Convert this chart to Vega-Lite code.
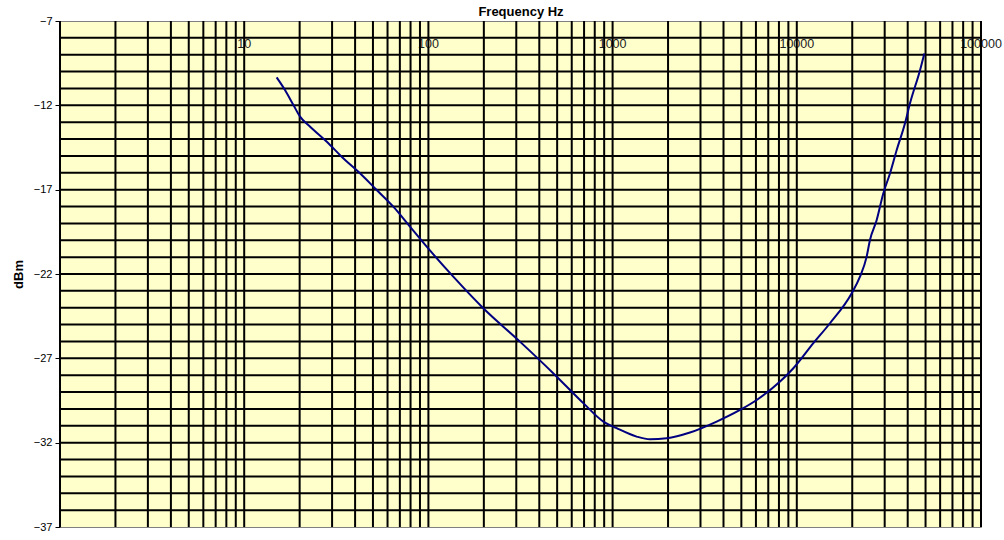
{
  "$schema": "https://vega.github.io/schema/vega-lite/v6.json",
  "width": 921,
  "height": 506,
  "autosize": {"type": "none"},
  "padding": {"left": 60, "top": 21, "right": 23, "bottom": 13},
  "background": "white",
  "config": {
    "font": "Liberation Sans",
    "view": {"fill": "#FFFFCC", "stroke": "#808080", "strokeWidth": 1}
  },
  "datasets": {
    "labels": [
      {"f": 10, "label": "10"},
      {"f": 100, "label": "100"},
      {"f": 1000, "label": "1000"},
      {"f": 10000, "label": "10000"},
      {"f": 100000, "label": "100000"}
    ],
    "xgrid": [
      {"f": 1}, {"f": 2}, {"f": 3}, {"f": 4}, {"f": 5}, {"f": 6}, {"f": 7}, {"f": 8}, {"f": 9},
      {"f": 10}, {"f": 20}, {"f": 30}, {"f": 40}, {"f": 50}, {"f": 60}, {"f": 70}, {"f": 80}, {"f": 90},
      {"f": 100}, {"f": 200}, {"f": 300}, {"f": 400}, {"f": 500}, {"f": 600}, {"f": 700}, {"f": 800}, {"f": 900},
      {"f": 1000}, {"f": 2000}, {"f": 3000}, {"f": 4000}, {"f": 5000}, {"f": 6000}, {"f": 7000}, {"f": 8000}, {"f": 9000},
      {"f": 10000}, {"f": 20000}, {"f": 30000}, {"f": 40000}, {"f": 50000}, {"f": 60000}, {"f": 70000}, {"f": 80000}, {"f": 90000},
      {"f": 100000}
    ],
    "ygrid": [
      {"db": -36}, {"db": -35}, {"db": -34}, {"db": -33}, {"db": -32}, {"db": -31}, {"db": -30},
      {"db": -29}, {"db": -28}, {"db": -27}, {"db": -26}, {"db": -25}, {"db": -24}, {"db": -23},
      {"db": -22}, {"db": -21}, {"db": -20}, {"db": -19}, {"db": -18}, {"db": -17}, {"db": -16},
      {"db": -15}, {"db": -14}, {"db": -13}, {"db": -12}, {"db": -11}, {"db": -10}, {"db": -9}, {"db": -8}
    ],
    "curve": [
      {"f": 15.0, "db": -10.34},
      {"f": 16.65, "db": -11.09},
      {"f": 18.5, "db": -11.98},
      {"f": 20.1, "db": -12.67},
      {"f": 22.8, "db": -13.27},
      {"f": 28.0, "db": -14.15},
      {"f": 34.5, "db": -15.14},
      {"f": 42.5, "db": -16.03},
      {"f": 52.4, "db": -17.02},
      {"f": 64.5, "db": -18.01},
      {"f": 79.4, "db": -19.19},
      {"f": 97.9, "db": -20.38},
      {"f": 136.5, "db": -22.16},
      {"f": 198.6, "db": -24.03},
      {"f": 314, "db": -26.01},
      {"f": 476, "db": -27.88},
      {"f": 700, "db": -29.7},
      {"f": 891, "db": -30.75},
      {"f": 1052, "db": -31.14},
      {"f": 1351, "db": -31.64},
      {"f": 1596, "db": -31.8},
      {"f": 1967, "db": -31.74},
      {"f": 2630, "db": -31.4},
      {"f": 3672, "db": -30.75},
      {"f": 4918, "db": -30.06},
      {"f": 6057, "db": -29.47},
      {"f": 8110, "db": -28.38},
      {"f": 9577, "db": -27.59},
      {"f": 12300, "db": -26.1},
      {"f": 15140, "db": -24.92},
      {"f": 19870, "db": -23.14},
      {"f": 22030, "db": -22.16},
      {"f": 23950, "db": -20.97},
      {"f": 24960, "db": -19.98},
      {"f": 27150, "db": -18.8},
      {"f": 29500, "db": -17.21},
      {"f": 32080, "db": -16.03},
      {"f": 34860, "db": -14.65},
      {"f": 38680, "db": -13.06},
      {"f": 41170, "db": -11.88},
      {"f": 46700, "db": -9.9},
      {"f": 49250, "db": -8.92}
    ]
  },
  "encoding": {
    "x": {
      "type": "quantitative",
      "scale": {"type": "log", "domain": [1, 100000], "nice": false},
      "axis": {
        "orient": "top", "title": "Frequency Hz", "titleFontSize": 13, "titleFontWeight": "bold",
        "titleColor": "black", "titlePadding": 3, "labels": false, "ticks": false, "domain": false, "grid": false
      }
    },
    "y": {
      "type": "quantitative",
      "scale": {"domain": [-37, -7], "nice": false, "zero": false},
      "axis": {
        "values": [-37, -32, -27, -22, -17, -12, -7], "title": "dBm", "titleFontSize": 13,
        "titleFontWeight": "bold", "titleColor": "black", "titlePadding": 8, "labelFontSize": 11,
        "labelColor": "black", "labelPadding": 3, "tickColor": "black", "tickSize": 5, "tickWidth": 1,
        "domain": false, "grid": false
      }
    }
  },
  "layer": [
    {
      "data": {"name": "labels"},
      "mark": {"type": "text", "baseline": "top", "align": "center", "dy": 0, "fontSize": 12.5, "fill": "#222222"},
      "encoding": {
        "x": {"field": "f"},
        "y": {"datum": -8},
        "text": {"field": "label"}
      }
    },
    {
      "data": {"name": "xgrid"},
      "mark": {"type": "rule", "color": "black", "strokeWidth": 2},
      "encoding": {
        "x": {"field": "f"},
        "y": {"datum": -37},
        "y2": {"datum": -7}
      }
    },
    {
      "data": {"name": "ygrid"},
      "mark": {"type": "rule", "color": "black", "strokeWidth": 2},
      "encoding": {
        "y": {"field": "db"},
        "x": {"datum": 1},
        "x2": {"datum": 100000}
      }
    },
    {
      "data": {"name": "curve"},
      "mark": {"type": "line", "color": "#000080", "strokeWidth": 2, "interpolate": "monotone"},
      "encoding": {
        "x": {"field": "f"},
        "y": {"field": "db"}
      }
    }
  ]
}
